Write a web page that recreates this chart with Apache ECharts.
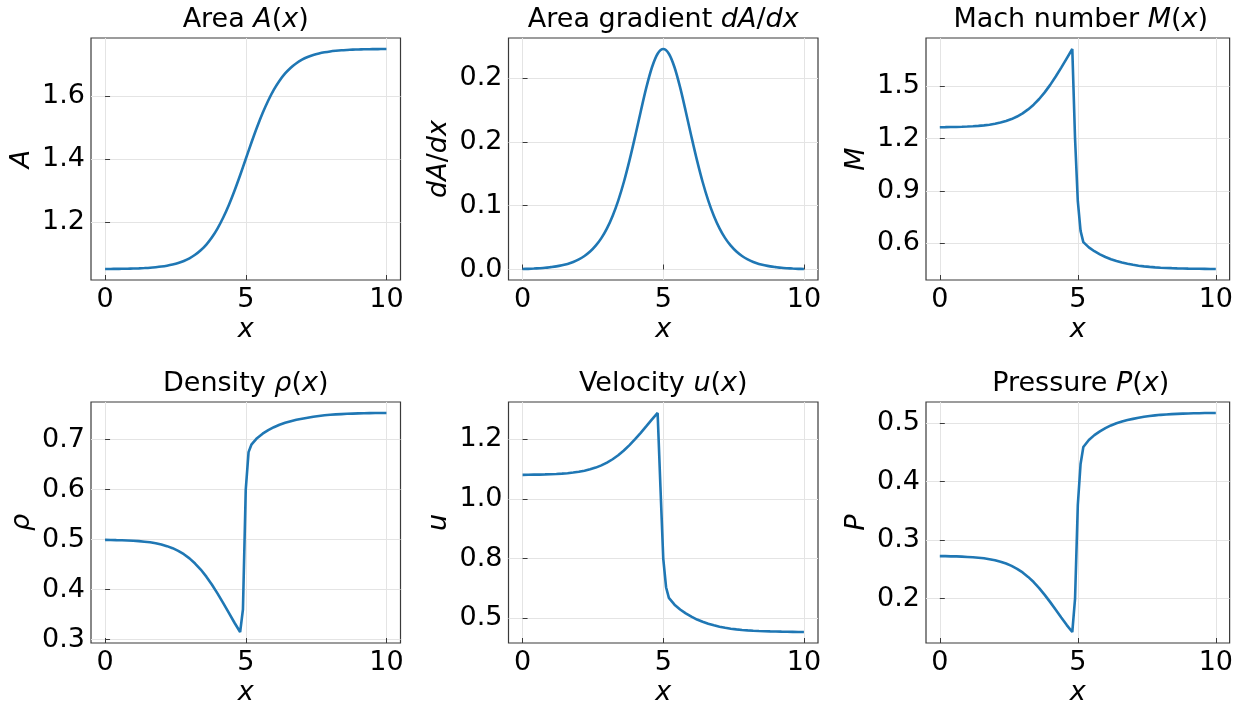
<!DOCTYPE html>
<html>
<head>
<meta charset="utf-8">
<script src="https://cdn.jsdelivr.net/npm/echarts@6/dist/echarts.min.js"></script>
<style>
  html, body { margin: 0; padding: 0; background: #ffffff; }
  #chart { width: 1236px; height: 707px; }
</style>
</head>
<body>
<div id="chart"></div>
<script>
// Nozzle geometry, sampled every 0.2
const xGeom = [0,0.2,0.4,0.6,0.8,1,1.2,1.4,1.6,1.8,2,2.2,2.4,2.6,2.8,3,3.2,3.4,3.6,3.8,4,4.2,4.4,4.6,4.8,5,
  5.2,5.4,5.6,5.8,6,6.2,6.4,6.6,6.8,7,7.2,7.4,7.6,7.8,8,8.2,8.4,8.6,8.8,9,9.2,9.4,9.6,9.8,10];
const area = [1.0504,1.0506,1.0508,1.0510,1.0514,1.0519,1.0525,1.0534,1.0545,1.0561,1.0581,1.0609,1.0646,1.0694,
  1.0759,1.0844,1.0955,1.1098,1.1281,1.1512,1.1797,1.2139,1.2539,1.2992,1.3485,1.4000,1.4515,1.5008,1.5461,1.5861,
  1.6204,1.6488,1.6719,1.6902,1.7045,1.7156,1.7241,1.7306,1.7354,1.7391,1.7419,1.7439,1.7455,1.7466,1.7475,1.7481,
  1.7486,1.7490,1.7492,1.7494,1.7496];
const areaGrad = [0.0006,0.0008,0.0011,0.0015,0.0020,0.0028,0.0037,0.0050,0.0066,0.0089,0.0119,0.0159,0.0211,0.0280,
  0.0369,0.0484,0.0630,0.0811,0.1029,0.1283,0.1565,0.1859,0.2141,0.2378,0.2537,0.2593,0.2537,0.2378,0.2141,0.1859,
  0.1565,0.1283,0.1029,0.0811,0.0630,0.0484,0.0369,0.0280,0.0211,0.0159,0.0119,0.0089,0.0066,0.0050,0.0037,0.0028,
  0.0020,0.0015,0.0011,0.0008,0.0006];

// Flow solution (finer sampling through the shock)
const xFlow = [0,0.2,0.4,0.6,0.8,1,1.2,1.4,1.6,1.8,2,2.2,2.4,2.6,2.8,3,3.2,3.4,3.6,3.8,4,4.2,4.4,4.6,4.8,
  4.9,5,5.1,5.2,5.4,5.6,5.8,6,6.2,6.4,6.6,6.8,7,7.2,7.4,7.6,7.8,8,8.2,8.4,8.6,8.8,9,9.2,9.4,9.6,9.8,10];
const mach = [1.2649,1.2654,1.2660,1.2665,1.2676,1.2689,1.2705,1.2728,1.2755,1.2795,1.2846,1.2916,1.3003,1.3116,
  1.3261,1.3444,1.3670,1.3941,1.4267,1.4648,1.5080,1.5558,1.6071,1.6605,1.7139,
  1.20,0.84,0.67,0.605,
  0.575,0.553,0.535,0.520,0.507,0.497,0.488,0.481,0.475,0.470,0.466,0.463,0.4605,0.4585,0.457,
  0.4558,0.4548,0.454,0.4533,0.4527,0.4522,0.4518,0.4514,0.4510];
const density = [0.4995,0.4993,0.4990,0.4988,0.4983,0.4976,0.4969,0.4958,0.4945,0.4926,0.4902,0.4869,0.4828,0.4775,
  0.4708,0.4624,0.4521,0.4400,0.4258,0.4096,0.3917,0.3727,0.3531,0.3335,0.3149,
  0.36,0.60,0.675,0.690,
  0.703,0.712,0.719,0.725,0.730,0.734,0.737,0.740,0.742,0.744,0.746,0.7475,0.7488,0.7498,0.7506,
  0.7512,0.7518,0.7522,0.7526,0.7529,0.7531,0.7533,0.7534,0.7535];
const velocity = [1.1010,1.1013,1.1017,1.1020,1.1027,1.1036,1.1047,1.1062,1.1079,1.1106,1.1139,1.1184,1.1241,1.1313,
  1.1406,1.1522,1.1663,1.1830,1.2027,1.2253,1.2503,1.2771,1.3050,1.3331,1.3603,
  1.05,0.75,0.63,0.585,
  0.5569,0.5368,0.5203,0.5065,0.4945,0.4852,0.4768,0.4702,0.4646,0.4600,0.4562,0.4534,0.4510,0.4492,0.4478,
  0.4466,0.4457,0.4449,0.4443,0.4437,0.4432,0.4429,0.4425,0.4421];
const pressure = [0.2727,0.2726,0.2723,0.2722,0.2718,0.2713,0.2707,0.2699,0.2689,0.2674,0.2656,0.2631,0.2600,0.2560,
  0.2510,0.2448,0.2372,0.2284,0.2181,0.2065,0.1941,0.1810,0.1678,0.1549,0.1430,
  0.20,0.36,0.43,0.459,
  0.4710,0.4793,0.4858,0.4913,0.4959,0.4996,0.5025,0.5052,0.5071,0.5089,0.5107,0.5120,0.5131,0.5140,0.5146,
  0.5152,0.5157,0.5160,0.5163,0.5166,0.5168,0.5170,0.5171,0.5172];

// Tick positions and their printed labels
const xTicks = [0, 5, 10];
const xTickLabels = ['0', '5', '10'];
const areaTicks = [1.2, 1.4, 1.6];
const areaTickLabels = ['1.2', '1.4', '1.6'];
const gradTicks = [0, 0.075, 0.15, 0.225];
const gradTickLabels = ['0.0', '0.1', '0.2', '0.2'];
const machTicks = [0.6, 0.9, 1.2, 1.5];
const machTickLabels = ['0.6', '0.9', '1.2', '1.5'];
const densityTicks = [0.3, 0.4, 0.5, 0.6, 0.7];
const densityTickLabels = ['0.3', '0.4', '0.5', '0.6', '0.7'];
const velocityTicks = [0.5, 0.75, 1.0, 1.25];
const velocityTickLabels = ['0.5', '0.8', '1.0', '1.2'];
const pressureTicks = [0.2, 0.3, 0.4, 0.5];
const pressureTickLabels = ['0.2', '0.3', '0.4', '0.5'];

const FONT = 'DejaVu Sans';
const FS = 27;
const BLUE = '#1f77b4';
const richStyles = {
  n: { fontFamily: FONT, fontSize: FS, color: '#000' },
  i: { fontFamily: FONT, fontSize: FS, color: '#000', fontStyle: 'italic' }
};

const panels = [
  { title: '{n|Area }{i|A}{n|(}{i|x}{n|)}', yName: '{i|A}', x: xGeom, y: area, ticks: areaTicks, labels: areaTickLabels, smooth: 0.3 },
  { title: '{n|Area gradient }{i|dA}{n|/}{i|dx}', yName: '{i|dA}{n|/}{i|dx}', x: xGeom, y: areaGrad, ticks: gradTicks, labels: gradTickLabels, smooth: 0.3 },
  { title: '{n|Mach number }{i|M}{n|(}{i|x}{n|)}', yName: '{i|M}', x: xFlow, y: mach, ticks: machTicks, labels: machTickLabels, smooth: false },
  { title: '{n|Density }{i|ρ}{n|(}{i|x}{n|)}', yName: '{i|ρ}', x: xFlow, y: density, ticks: densityTicks, labels: densityTickLabels, smooth: false },
  { title: '{n|Velocity }{i|u}{n|(}{i|x}{n|)}', yName: '{i|u}', x: xFlow, y: velocity, ticks: velocityTicks, labels: velocityTickLabels, smooth: false },
  { title: '{n|Pressure }{i|P}{n|(}{i|x}{n|)}', yName: '{i|P}', x: xFlow, y: pressure, ticks: pressureTicks, labels: pressureTickLabels, smooth: false }
];

const lefts = [91, 508.5, 926];
const tops = [38, 402];
const W = 309.5;
const heights = [242, 243];

// matplotlib-style 5% autoscale margins
function padded(arr) {
  const lo = Math.min(...arr), hi = Math.max(...arr);
  const m = (hi - lo) * 0.05;
  return [lo - m, hi + m];
}

function labelFor(ticks, labels) {
  return function (v) {
    let best = 0;
    for (let k = 1; k < ticks.length; k++) {
      if (Math.abs(ticks[k] - v) < Math.abs(ticks[best] - v)) best = k;
    }
    return labels[best];
  };
}

const grid = [], xAxis = [], yAxis = [], series = [], graphic = [];

panels.forEach(function (p, i) {
  const col = i % 3, row = Math.floor(i / 3);
  const left = lefts[col], top = tops[row], h = heights[row];
  grid.push({ left: left, top: top, width: W, height: h, show: true,
    borderColor: '#3a3a3a', borderWidth: 1.2, backgroundColor: 'transparent' });

  xAxis.push({
    type: 'value', gridIndex: i, min: -0.5, max: 10.5,
    name: 'x', nameLocation: 'middle', nameGap: 36,
    nameTextStyle: { fontFamily: FONT, fontSize: FS, fontStyle: 'italic', color: '#000' },
    axisLine: { show: false },
    axisTick: { show: true, inside: true, length: 5, customValues: xTicks, lineStyle: { color: '#3a3a3a', width: 1 } },
    axisLabel: { customValues: xTicks, formatter: labelFor(xTicks, xTickLabels), margin: 6,
      fontFamily: FONT, fontSize: FS, color: '#000' },
    splitLine: { show: true, lineStyle: { color: '#e4e4e4', width: 1 } }
  });

  const ext = padded(p.y);
  yAxis.push({
    type: 'value', gridIndex: i, min: ext[0], max: ext[1],
    name: p.yName, nameLocation: 'middle', nameGap: 56,
    nameTextStyle: { fontFamily: FONT, fontSize: FS, color: '#000', rich: richStyles },
    axisLine: { show: false },
    axisTick: { show: true, inside: true, length: 5, customValues: p.ticks, lineStyle: { color: '#3a3a3a', width: 1 } },
    axisLabel: { customValues: p.ticks, formatter: labelFor(p.ticks, p.labels), margin: 6,
      fontFamily: FONT, fontSize: FS, color: '#000' },
    splitLine: { show: true, lineStyle: { color: '#e4e4e4', width: 1 } }
  });

  series.push({
    type: 'line', xAxisIndex: i, yAxisIndex: i,
    data: p.x.map(function (xv, k) { return [xv, p.y[k]]; }),
    showSymbol: false, symbol: 'none', smooth: p.smooth,
    lineStyle: { color: BLUE, width: 2.6 },
    emphasis: { disabled: true }, silent: true, animation: false
  });

  graphic.push({
    type: 'text', x: left + W / 2, y: top - 18,
    style: { text: p.title, align: 'center', verticalAlign: 'middle', rich: richStyles,
      fontFamily: FONT, fontSize: FS, fill: '#000' }
  });
});

const chart = echarts.init(document.getElementById('chart'), null, { renderer: 'canvas' });
chart.setOption({
  animation: false,
  backgroundColor: '#ffffff',
  grid: grid, xAxis: xAxis, yAxis: yAxis, series: series, graphic: graphic
});
</script>
</body>
</html>
